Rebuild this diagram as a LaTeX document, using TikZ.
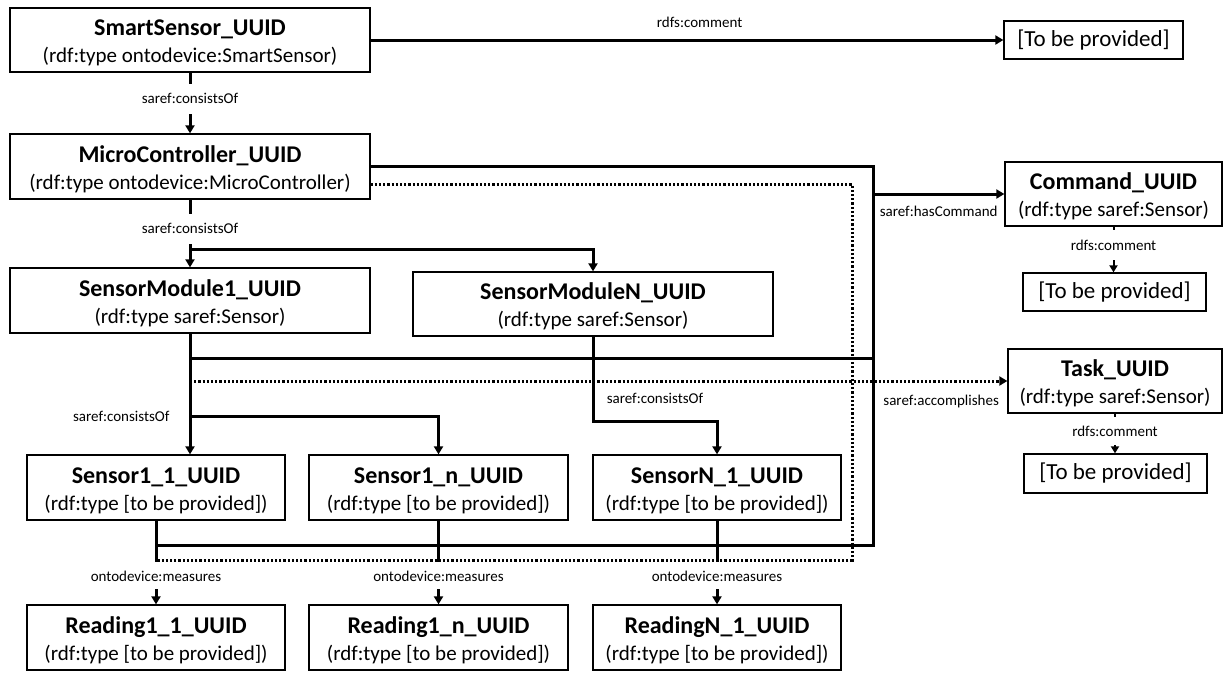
\documentclass[tikz,border=0pt]{standalone}
\usepackage{fontspec}
\setmainfont{Carlito}
\usetikzlibrary{arrows.meta}
\newcommand{\bxt}[2]{{\fontsize{24}{27}\selectfont\bfseries\rule{0pt}{21.5pt}#1}\\{\fontsize{21}{27}\selectfont #2}}
\begin{document}
\begin{tikzpicture}[x=1pt,y=-1pt,
 box/.style={draw, line width=1.3pt, align=center, inner sep=0pt, font=\fontsize{21}{27}\selectfont},
 tbp/.style={draw, line width=1.3pt, inner sep=0pt, font=\fontsize{23}{27}\selectfont},
 conn/.style={line width=3pt},
 thinconn/.style={line width=2pt},
 dotconn/.style={line width=3pt, dash pattern=on 2.2pt off 2pt},
 arr/.style={-{Triangle[length=8pt,width=9pt]}},
 sarr/.style={-{Triangle[length=7pt,width=8pt]}},
 lbl/.style={font=\fontsize{15}{17}\selectfont, inner sep=1pt},
 gaplbl/.style={lbl, fill=white, minimum height=30pt, inner xsep=3pt},
]
\useasboundingbox (0,0) rectangle (1231,688);

% nodes
\node[box, minimum width=360pt, minimum height=64pt] (ss) at (190,40) {\bxt{SmartSensor\_UUID}{(rdf:type ontodevice:SmartSensor)}};
\node[tbp, minimum width=179pt, minimum height=38pt] (tbp1) at (1093.5,40) {[To be provided]};
\node[box, minimum width=360pt, minimum height=65pt] (mc) at (190,166.5) {\bxt{MicroController\_UUID}{(rdf:type ontodevice:MicroController)}};
\node[box, minimum width=217pt, minimum height=64pt] (cmd) at (1113.5,194) {\bxt{Command\_UUID}{(rdf:type saref:Sensor)}};
\node[tbp, minimum width=183pt, minimum height=38pt] (tbp2) at (1114.5,292) {[To be provided]};
\node[box, minimum width=360pt, minimum height=65pt] (sm1) at (190,300.5) {\bxt{SensorModule1\_UUID}{(rdf:type saref:Sensor)}};
\node[box, minimum width=360pt, minimum height=64pt] (smn) at (593,304) {\bxt{SensorModuleN\_UUID}{(rdf:type saref:Sensor)}};
\node[box, minimum width=214pt, minimum height=64pt] (task) at (1115,381) {\bxt{Task\_UUID}{(rdf:type saref:Sensor)}};
\node[tbp, minimum width=183pt, minimum height=39pt] (tbp3) at (1115.5,473.5) {[To be provided]};
\node[box, minimum width=258pt, minimum height=65pt] (s11) at (156,487.5) {\bxt{Sensor1\_1\_UUID}{(rdf:type [to be provided])}};
\node[box, minimum width=259pt, minimum height=65pt] (s1n) at (438.5,487.5) {\bxt{Sensor1\_n\_UUID}{(rdf:type [to be provided])}};
\node[box, minimum width=248pt, minimum height=65pt] (sn1) at (717,487.5) {\bxt{SensorN\_1\_UUID}{(rdf:type [to be provided])}};
\node[box, minimum width=258pt, minimum height=65pt] (r11) at (156,637.5) {\bxt{Reading1\_1\_UUID}{(rdf:type [to be provided])}};
\node[box, minimum width=259pt, minimum height=65pt] (r1n) at (438.5,637.5) {\bxt{Reading1\_n\_UUID}{(rdf:type [to be provided])}};
\node[box, minimum width=248pt, minimum height=65pt] (rn1) at (717,637.5) {\bxt{ReadingN\_1\_UUID}{(rdf:type [to be provided])}};

% junction coordinates
\coordinate (hc) at (873,166.5);
\coordinate (hb) at (873,545);
\coordinate (hcmd) at (873,194);
\coordinate (dc) at (852,184);
\coordinate (db) at (852,560);
\coordinate (sp1) at (190,249);
\coordinate (m1) at (190,358);
\coordinate (m1e) at (873,358);
\coordinate (d1) at (190,381);
\coordinate (sp2) at (190,416);
\coordinate (sp3) at (593,421);

% solid and dotted collectors (drawn first)
\draw[conn] (mc.east) -- (hc) -- (hb) -- (s11.south |- hb);
\draw[conn] (m1) -- (m1e);
\draw[dotconn] (mc.east |- dc) -- (dc) -- (db) -- (s11.south |- db);
\draw[conn,arr] (hcmd) -- node[lbl, below=10pt]{saref:hasCommand} (cmd);
\draw[dotconn,arr] (d1) -- node[lbl, below=12pt, pos=0.919]{saref:accomplishes} (task);

% hierarchy
\draw[conn,arr] (ss) -- node[lbl, above=10pt, pos=0.52]{rdfs:comment} (tbp1);
\draw[conn,arr] (ss) -- node[gaplbl, pos=0.43]{saref:consistsOf} (mc);
\draw[conn,arr] (mc) -- node[gaplbl, pos=0.43]{saref:consistsOf} (sm1);
\draw[conn,arr] (sp1) -| (smn);
\draw[conn,arr] (sm1) -- (sm1.south |- s11.north);
\draw[conn,arr] (sp2) node[lbl, left=18pt]{saref:consistsOf} -| (s1n);
\draw[conn,arr] (smn) -- (sp3) -| node[lbl, pos=0.25, above=15pt]{saref:consistsOf} (sn1);

% measures
\draw[conn,arr] (s11) -- node[gaplbl, pos=0.66, minimum height=27pt]{ontodevice:measures} (r11);
\draw[conn,arr] (s1n) -- node[gaplbl, pos=0.66, minimum height=27pt]{ontodevice:measures} (r1n);
\draw[conn,arr] (sn1) -- node[gaplbl, pos=0.66, minimum height=27pt]{ontodevice:measures} (rn1);

% comments
\draw[thinconn,sarr] (cmd.south) -- node[gaplbl, pos=0.4]{rdfs:comment} (cmd.south |- tbp2.north);
\draw[thinconn,sarr] (task.south) -- node[gaplbl, pos=0.44, minimum height=28pt]{rdfs:comment} (task.south |- tbp3.north);
\end{tikzpicture}
\end{document}
